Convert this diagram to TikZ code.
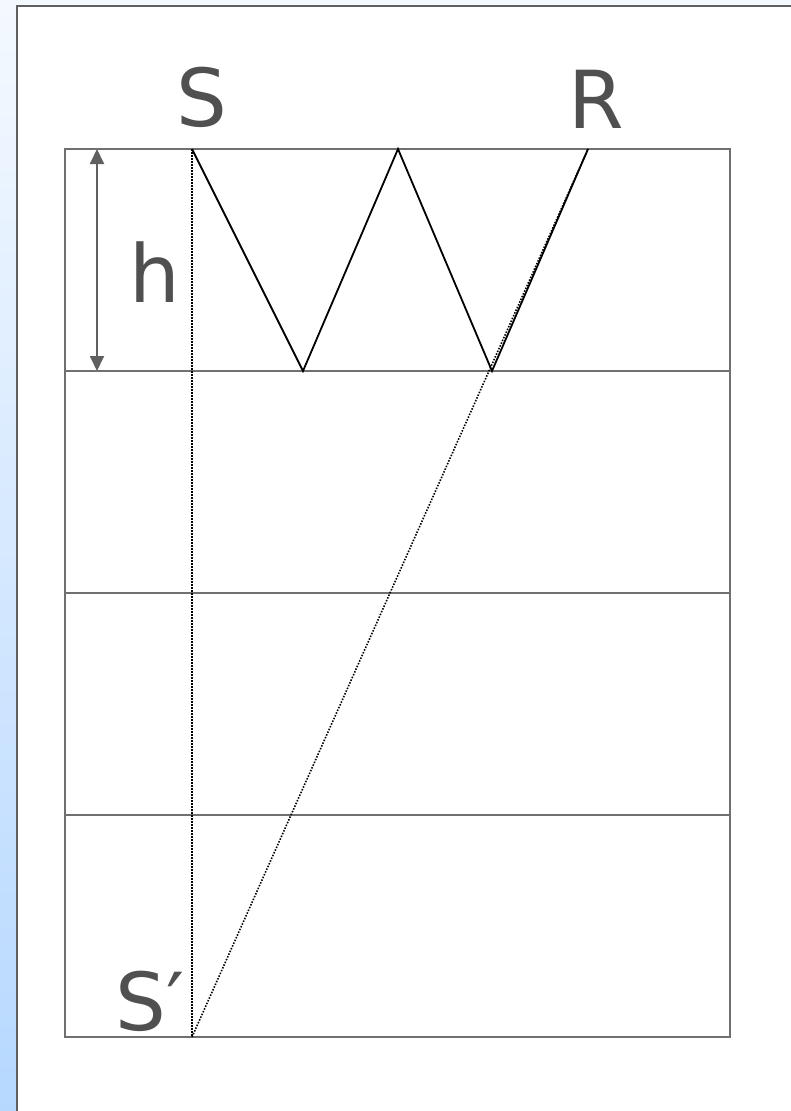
\documentclass[tikz,border=0pt]{standalone}
\usepackage{fontspec}
\setmainfont{DejaVu Sans}
\usetikzlibrary{arrows.meta}
\definecolor{slidetop}{RGB}{244,249,255}
\definecolor{slidebottom}{RGB}{182,216,255}
\definecolor{framegray}{RGB}{96,96,96}
\definecolor{layergray}{RGB}{112,112,112}
\definecolor{labelgray}{RGB}{80,80,80}

\begin{document}
\begin{tikzpicture}[x=1pt, y=-1pt, >={Triangle[length=15pt,width=14pt]}]
    \useasboundingbox (0,0) rectangle (791,1111);
    % slide background
    \shade[top color=slidetop, bottom color=slidebottom] (0,0) rectangle (791,1111);
    \fill[white] (17,6) rectangle (791,1111);
    \draw[framegray, line width=2pt] (17,1111) -- (17,6) -- (791,6);

    % layers
    \draw[layergray, line width=2pt] (65,149) rectangle (730,1037);
    \foreach \y in {371,593,815}
        \draw[layergray, line width=2pt] (65,\y) -- (730,\y);

    % points of the ray
    \coordinate (s) at (192,149);
    \coordinate (b1) at (303,371);
    \coordinate (t1) at (398,149);
    \coordinate (b2) at (492,371);
    \coordinate (r) at (588,149);
    \coordinate (sp) at (192,1037);

    % labels
    \node (slabel) at (202,126) [anchor=base, text=labelgray, inner sep=0pt] {\fontsize{80}{96}\selectfont S};
    \node (rlabel) at (596,128) [anchor=base, text=labelgray, inner sep=0pt] {\fontsize{80}{96}\selectfont R};
    \node (hlabel) at (155,302) [anchor=base, text=labelgray, inner sep=0pt] {\fontsize{80}{96}\selectfont h};
    \node (splabel) at (150,1030) [anchor=base, text=labelgray, inner sep=0pt] {\fontsize{80}{96}\selectfont S′};

    % thickness arrow
    \coordinate (htop) at (97,149);
    \coordinate (hbot) at (97,371);
    \draw[<->, framegray, line width=2pt] (htop) -- (hbot);

    % image source and straight ray
    \draw[black, line width=1.6pt, dash pattern=on 1.5pt off 1.5pt] (s) -- (sp);
    \draw[black, line width=1.6pt, dash pattern=on 1.5pt off 1.5pt] (sp) -- (r);

    % reflected ray
    \draw[black, line width=1.8pt] (s) -- (b1) -- (t1) -- (b2) -- (r);
\end{tikzpicture}
\end{document}
